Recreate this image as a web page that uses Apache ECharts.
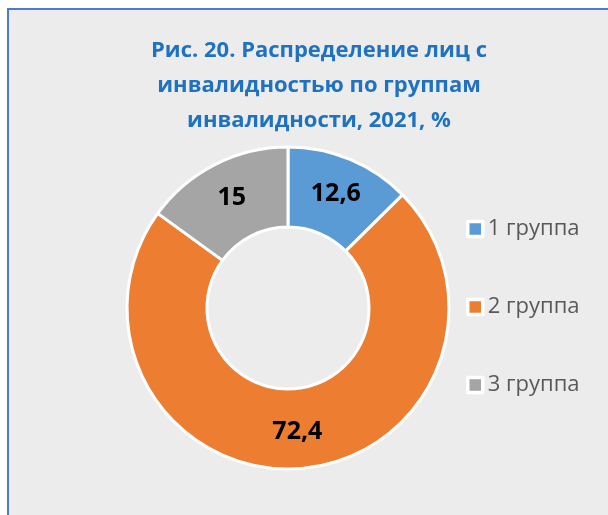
<!DOCTYPE html>
<html><head><meta charset="utf-8">
<script src="https://cdn.jsdelivr.net/npm/echarts@6/dist/echarts.min.js"></script>
<style>html,body{margin:0;padding:0;background:#fff;}#c{width:608px;height:515px;}</style>
</head><body><div id="c"></div>
<script>
const titleLines = ['Рис. 20. Распределение лиц с', 'инвалидностью по группам', 'инвалидности, 2021, %'];
const categories = ['1 группа', '2 группа', '3 группа'];
const values = [12.6, 72.4, 15];
const colors = ['#5b9bd5', '#ed7d31', '#a5a5a5'];

const chart = echarts.init(document.getElementById('c'), null, {renderer: 'canvas'});
chart.setOption({
  backgroundColor: '#ececec',
  animation: false,
  color: colors,
  graphic: [
    {type: 'rect', shape: {x: 0, y: 0, width: 608, height: 8}, style: {fill: '#ffffff'}, z: 10},
    {type: 'rect', shape: {x: 0, y: 0, width: 7, height: 515}, style: {fill: '#ffffff'}, z: 10},
    {type: 'rect', shape: {x: 7, y: 8, width: 601, height: 2}, style: {fill: '#4a7bd0'}, z: 11},
    {type: 'rect', shape: {x: 7, y: 8, width: 2, height: 507}, style: {fill: '#4a7bd0'}, z: 11}
  ],
  title: {
    text: titleLines.join('\n'),
    left: 314, top: 28, textAlign: 'center',
    textStyle: {fontFamily: 'Open Sans', fontWeight: 'bold', fontSize: 22, color: '#1f72bf', lineHeight: 35}
  },
  legend: {
    orient: 'vertical', left: 461, top: 213, itemGap: 56,
    itemWidth: 15, itemHeight: 15, icon: 'rect',
    data: categories,
    itemStyle: {borderColor: '#ffffff', borderWidth: 3.5},
    textStyle: {fontFamily: 'Open Sans', fontSize: 22, color: '#595959'}
  },
  series: [{
    type: 'pie',
    center: [288, 308], radius: [81, 161],
    startAngle: 90, clockwise: true,
    itemStyle: {borderColor: '#ffffff', borderWidth: 3},
    label: {
      show: true, position: 'inside',
      formatter: p => String(p.value).replace('.', ','),
      fontFamily: 'Open Sans', fontWeight: 'bold', fontSize: 25, color: '#000000'
    },
    labelLine: {show: false},
    emphasis: {disabled: true},
    data: categories.map((c, i) => ({name: c, value: values[i]}))
  }]
});
</script></body></html>
